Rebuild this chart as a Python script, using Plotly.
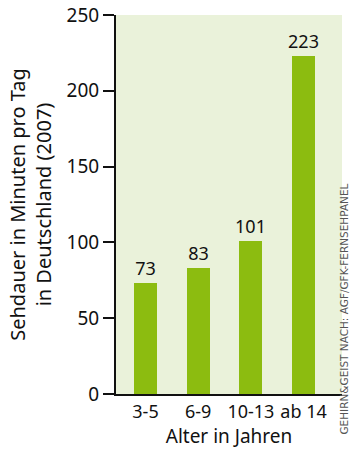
import plotly.graph_objects as go

categories = ["3-5", "6-9", "10-13", "ab 14"]
values = [73, 83, 101, 223]
y_ticks = [0, 50, 100, 150, 200, 250]

FONT = "Noto Sans"
fig = go.Figure()
fig.add_trace(go.Bar(
    x=list(range(len(categories))), y=values,
    width=0.44, marker=dict(color="#8cbc10", line=dict(width=0)),
    text=[str(v) for v in values], textposition="outside",
    textfont=dict(family=FONT, size=18, color="#111"),
    constraintext="none",
    cliponaxis=False,
))
fig.update_layout(
    width=352, height=454,
    margin=dict(l=116, r=10, t=15, b=60, autoexpand=False),
    paper_bgcolor="white", plot_bgcolor="#eaf2da",
    showlegend=False, bargap=0,
    font=dict(family=FONT, color="#111"),
    xaxis=dict(
        tickmode="array", tickvals=list(range(len(categories))), ticktext=categories,
        range=[-0.56, 3.73], showgrid=False, zeroline=False,
        showline=True, linecolor="#111", linewidth=2, ticks="",
        tickfont=dict(size=18), automargin=False,
        title=dict(text="Alter in Jahren", font=dict(size=19), standoff=6),
    ),
    yaxis=dict(
        range=[0, 250], tickvals=y_ticks, showgrid=False, zeroline=False,
        showline=True, linecolor="#111", linewidth=2, ticks="outside", ticklen=11,
        tickwidth=2, tickcolor="#111", automargin=False,
        tickfont=dict(size=19),
        title=dict(text="Sehdauer in Minuten pro Tag<br>in Deutschland (2007)", font=dict(size=20), standoff=10),
    ),
)
fig.add_annotation(
    text="GEHIRN&GEIST NACH: AGF/GFK-FERNSEHPANEL",
    xref="paper", yref="paper", x=1.011, y=0.224, textangle=-90,
    showarrow=False, font=dict(family="DejaVu Sans", size=10.5, color="#555"),
    xanchor="center", yanchor="middle", borderpad=0,
)
fig.write_html("out.html")
